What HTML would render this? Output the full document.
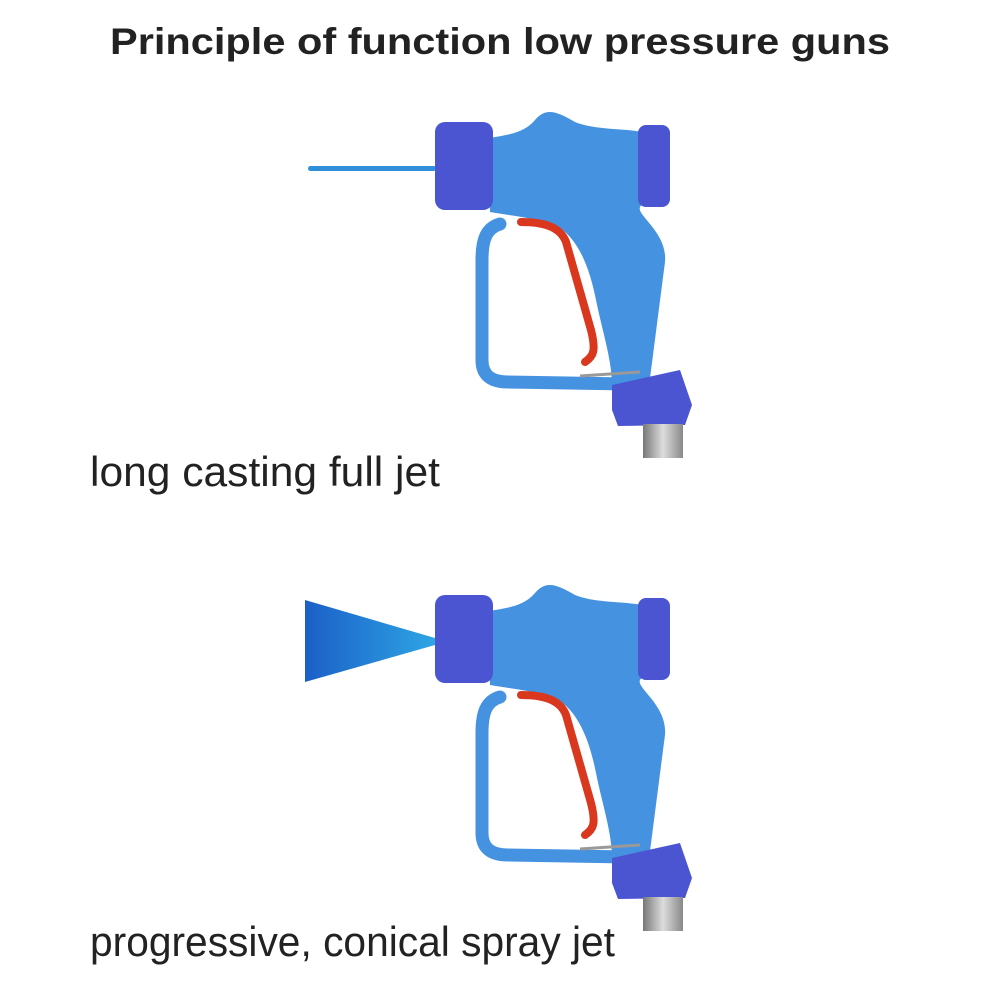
<!DOCTYPE html>
<html><head><meta charset="utf-8"><style>
body{margin:0;background:#fff;width:1000px;height:1000px;overflow:hidden}
svg{display:block}
</style></head><body>
<svg width="1000" height="1000" viewBox="0 0 1000 1000">
<defs>
<linearGradient id="cone" x1="0" x2="1"><stop offset="0" stop-color="#1b5fc7"/><stop offset="1" stop-color="#2ea5e4"/></linearGradient>
<linearGradient id="metal" x1="0" x2="1"><stop offset="0" stop-color="#777"/><stop offset="0.5" stop-color="#ddd"/><stop offset="1" stop-color="#888"/></linearGradient>
<g id="gun">
<path d="M500,224 C486,228 482,240 482,260 L482,360 C482,376 492,382 508,382 L628,384" fill="none" stroke="#4592e0" stroke-width="13" stroke-linecap="round"/>
<path d="M488,138 C510,135 525,132 535,120 C545,108 555,110 575,122 C595,130 620,128 642,132 L642,205 C630,212 668,230 665,262 C660,300 655,340 650,378 L612,385 C612,360 602,330 596,300 C590,270 580,242 560,228 C540,218 512,216 490,212 Z" fill="#4592e0"/>
<path d="M521,222 C542,222 560,226 566,242 L591,330 C596,350 594,356 585,362" fill="none" stroke="#d9381e" stroke-width="8" stroke-linecap="round"/>
<path d="M580,376 L640,372" stroke="#999" stroke-width="3"/>
<rect x="435" y="122" width="58" height="88" rx="10" fill="#4b55d2"/>
<rect x="638" y="125" width="32" height="82" rx="8" fill="#4b55d2"/>
<polygon points="612,385 680,370 692,405 685,425 618,426 612,410" fill="#4b55d2"/>
<rect x="643" y="424" width="40" height="34" fill="url(#metal)"/>
</g>
</defs>
<text x="110" y="54" textLength="780" lengthAdjust="spacingAndGlyphs" font-family="Liberation Sans, sans-serif" font-weight="bold" font-size="37" fill="#222">Principle of function low pressure guns</text>
<rect x="308" y="166" width="128" height="5" rx="2.5" fill="#2f8fd9"/>
<use href="#gun"/>
<polygon points="305,600 435,638 435,645 305,682" fill="url(#cone)"/>
<use href="#gun" transform="translate(0,473)"/>
<text x="90" y="486" textLength="350" lengthAdjust="spacingAndGlyphs" font-family="Liberation Sans, sans-serif" font-size="42" fill="#222">long casting full jet</text>
<text x="90" y="956" textLength="525" lengthAdjust="spacingAndGlyphs" font-family="Liberation Sans, sans-serif" font-size="42" fill="#222">progressive, conical spray jet</text>
</svg>
</body></html>
